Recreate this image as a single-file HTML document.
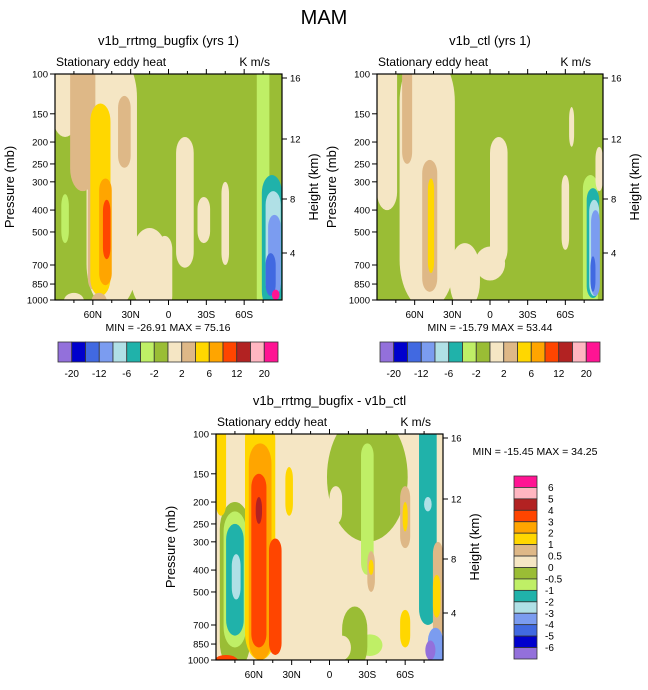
<!DOCTYPE html>
<html><head><meta charset="utf-8"><style>
body{margin:0;background:#fff;font-family:"Liberation Sans",Arial,sans-serif}
svg text{font-family:"Liberation Sans",Arial,sans-serif;fill:#000}
</style></head><body>
<svg id="fig" width="648" height="685" viewBox="0 0 648 685" xmlns="http://www.w3.org/2000/svg">
<text x="324" y="24" font-size="20" text-anchor="middle">MAM</text>
</svg>
<script>
const colors=["#9370DB","#0000CD","#4169E1","#7B9CF0","#B0E0E6","#20B2AA","#BFEF66","#9ABD35","#F5E6C4","#DEB887","#FFD700","#FFA500","#FF4500","#B22222","#FFB6C1","#FF1493"];
const topLevels=["-20","-12","-6","-2","2","6","12","20"];
const diffLevels=["6","5","4","3","2","1","0.5","0","-0.5","-1","-2","-3","-4","-5","-6"];
const latTicks=[60,30,0,-30,-60];
const latLabels=["60N","30N","0","30S","60S"];
const presTicks=[100,150,200,250,300,400,500,700,850,1000];
const heightTicks=[16,12,8,4];
const heightY=[4,65,125,179];
// blobs: [lat centre, lat half-width, p top, p bottom, colour index]
const blobsA=[[82,10,80,190,8],[45,20,80,1100,8],[68,10,80,330,9],[60,4,200,900,9],[35,5,125,260,9],[15,15,480,1100,8],[3,6,520,1100,8],[-13,7,190,720,8],[-45,3,300,700,8],[-28,5,350,560,8],[-75,5,80,1100,6],[82,3,340,560,6],[54,8,135,960,10],[50,5,290,860,11],[49,3,360,660,12],[-82,8,280,1100,5],[-83,6,330,960,4],[-84,5,420,960,3],[-81,4,620,960,2],[-85,3,900,1000,15],[75,8,930,1100,8],[55,6,930,1100,9]];
const blobsB=[[82,8,80,400,8],[50,22,80,1100,8],[66,4,80,250,9],[48,6,240,920,9],[47,2.5,290,760,10],[-7,7,190,700,8],[20,12,560,1100,8],[0,12,580,820,8],[-65,2,140,210,8],[-60,3,280,600,8],[-80,6,280,1100,6],[-82,5,320,980,5],[-83,4,360,960,4],[-84,3.5,400,960,3],[-82,2,640,920,2],[-87,3,210,330,8]];
const blobsC=[[28,28,80,1100,8],[-30,32,80,300,7],[-30,5,110,420,6],[-5,5,170,250,8],[-20,5,300,480,8],[75,12,200,1100,7],[75,9,220,880,6],[75,7,250,780,5],[74,3.5,340,540,4],[86,4,80,230,10],[55,12,80,1000,10],[55,9,110,1000,11],[56,6,150,880,12],[56,2.5,190,250,13],[43,5,290,950,12],[32,3,140,230,10],[-60,4,170,320,9],[-60,2,200,270,10],[-33,3,330,500,9],[-33,2,360,420,10],[-32,7,800,920,5],[-32,10,770,960,6],[-60,4,600,880,10],[-78,7,80,700,5],[-78,3,190,220,4],[-86,4,300,800,9],[-85,3,420,650,10],[-84,6,720,1100,3],[-80,4,820,1000,0],[82,10,950,1100,12],[-20,10,580,1100,7],[-10,7,780,1000,8]];
const svg=document.getElementById('fig');
const NS="http://www.w3.org/2000/svg";
function mk(tag,attrs,parent){const e=document.createElementNS(NS,tag);for(const k in attrs)e.setAttribute(k,attrs[k]);(parent||svg).appendChild(e);return e;}
function txt(x,y,s,size,anchor,parent){const t=mk('text',{x:x,y:y,'font-size':size,'text-anchor':anchor||'start'},parent);t.textContent=s;return t;}
let cid=0;
function panel(x0,y0,W,H,bg,blobs,title,minmax,mmx,mmy,name){
  const g=mk('g',{});
  
  
  const xs=lat=>x0+(90-lat)/180*W;
  const ys=p=>y0+Math.log10(p/100)*H;
  cid++;
  const cp=mk('clipPath',{id:'c'+cid},g);mk('rect',{x:x0,y:y0,width:W,height:H},cp);
  const f=mk('g',{'clip-path':'url(#c'+cid+')'},g);
  
  
  mk('rect',{x:x0,y:y0,width:W,height:H,fill:colors[bg]},f);
  blobs.forEach(b=>{
    const w=2*b[1]/180*W,x=xs(b[0])-w/2,y1=ys(b[2]),y2=ys(b[3]);
    const el=mk('rect',{x:x,y:y1,width:w,height:y2-y1,rx:w/2,ry:Math.min((y2-y1)/2,Math.max(w*0.9,12)),fill:colors[b[4]]},f);
    
    
  });
  mk('rect',{x:x0,y:y0,width:W,height:H,fill:'none',stroke:'#000','stroke-width':1.2},g);
  latTicks.forEach((l,i)=>{const x=xs(l);mk('line',{x1:x,x2:x,y1:y0+H,y2:y0+H+5,stroke:'#000'},g);mk('line',{x1:x,x2:x,y1:y0,y2:y0-5,stroke:'#000'},g);
    const t=txt(x,y0+H+18,latLabels[i],10,'middle',g);});
  for(let l=75;l>-90;l-=15){if(l%30===0)continue;const x=xs(l);mk('line',{x1:x,x2:x,y1:y0+H,y2:y0+H+3,stroke:'#000'},g);mk('line',{x1:x,x2:x,y1:y0,y2:y0-3,stroke:'#000'},g);}
  presTicks.forEach(p=>{const y=ys(p);mk('line',{x1:x0-5,x2:x0,y1:y,y2:y,stroke:'#000'},g);
    const t=txt(x0-7,y+3.5,String(p),9.5,'end',g);});
  heightTicks.forEach((h,i)=>{const y=y0+heightY[i];mk('line',{x1:x0+W,x2:x0+W+5,y1:y,y2:y,stroke:'#000'},g);
    const t=txt(x0+W+8,y+3.5,String(h),9.5,'start',g);});
  let t=txt(x0+W/2,y0-29,title,13,'middle',g);
  t=txt(x0+1,y0-8,'Stationary eddy heat',12,'start',g);
  t=txt(x0+W-12,y0-8,'K m/s',12,'end',g);
  t=txt(0,0,'Pressure (mb)',13,'middle',g);t.setAttribute('transform','translate('+(x0-41)+','+(y0+H/2)+') rotate(-90)');
  t=txt(0,0,'Height (km)',13,'middle',g);t.setAttribute('transform','translate('+(x0+W+36)+','+(y0+H/2)+') rotate(-90)');
  t=txt(mmx,mmy,minmax,10.5,'middle',g);
}
function hbar(x0,y0,W,H,name){
  const g=mk('g',{});
  const bw=W/colors.length;
  colors.forEach((c,i)=>{const r=mk('rect',{x:x0+i*bw,y:y0,width:bw,height:H,fill:c,stroke:'#333','stroke-width':0.8},g);});
  topLevels.forEach((s,i)=>{const t=txt(x0+(2*i+1)*bw,y0+H+15,s,10,'middle',g);});
}
panel(55,74,227,226,7,blobsA,'v1b_rrtmg_bugfix (yrs 1)','MIN = -26.91  MAX =  75.16',168,331,'panel-bugfix');
panel(377,74,226,226,7,blobsB,'v1b_ctl (yrs 1)','MIN = -15.79  MAX =  53.44',490,331,'panel-ctl');
panel(216,434,227,226,8,blobsC,'v1b_rrtmg_bugfix - v1b_ctl','MIN = -15.45  MAX =  34.25',535,455,'panel-diff');
hbar(58,342,220,20,'colorbar-bugfix');
hbar(380,342,220,20,'colorbar-ctl');
(function(){
  const g=mk('g',{});
  const x0=514,y0=476,W=23,H=183,bh=H/16;
  colors.slice().reverse().forEach((c,i)=>{const r=mk('rect',{x:x0,y:y0+i*bh,width:W,height:bh,fill:c,stroke:'#333','stroke-width':0.8},g);});
  diffLevels.forEach((s,i)=>{const t=txt(x0+W+11+(s[0]==='-'?-3:0),y0+(i+1)*bh+3.5,s,10,'start',g);});
})();
</script>
</body></html>
